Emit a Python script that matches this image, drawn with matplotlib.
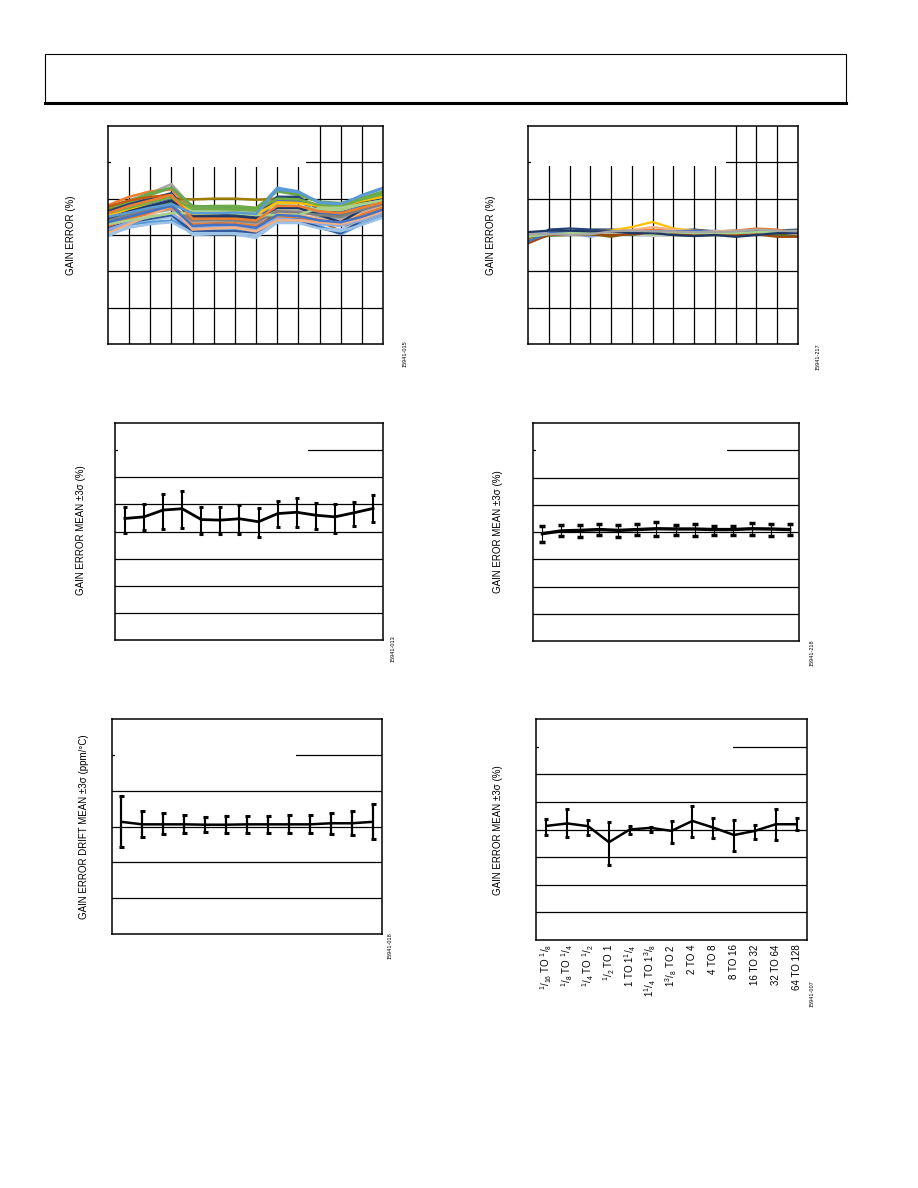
import matplotlib
matplotlib.use("Agg")
import matplotlib.pyplot as plt
from matplotlib.patches import Rectangle
from matplotlib.lines import Line2D

plt.rcParams["font.family"] = ["Liberation Sans", "DejaVu Sans"]

W, H = 918, 1188

# ---- data -------------------------------------------------------------
# top-left: gain error, many devices (14 points each)
ge_colors = ["#A5A5A5", "#ED7D31", "#70AD47", "#5B9BD5", "#A07C00", "#264478",
             "#4472C4", "#F4B183", "#A9D18E", "#548235", "#6AA84F", "#C55A11",
             "#9DC3E6", "#5B9BD5", "#FFC000", "#A5A5A5", "#2F5597", "#ED7D31",
             "#8FAADC", "#70AD47", "#1F3864", "#F4B183", "#7F7F7F", "#A9D18E",
             "#4472C4", "#ED7D31", "#9DC3E6", "#5B9BD5"]
ge_lines = [
    [0.55, 0.75, 1.15, 1.40, 0.75, 0.76, 0.78, 0.72, 1.05, 1.00, 0.80, 0.75, 0.95, 1.10],
    [0.82, 1.05, 1.20, 1.25, 0.70, 0.72, 0.70, 0.65, 0.95, 0.92, 0.78, 0.72, 0.90, 1.05],
    [0.70, 0.90, 1.10, 1.30, 0.78, 0.80, 0.80, 0.75, 1.20, 1.10, 0.90, 0.85, 1.00, 1.15],
    [0.60, 0.80, 0.95, 1.10, 0.68, 0.70, 0.72, 0.66, 1.30, 1.20, 0.88, 0.82, 1.10, 1.30],
    [0.70, 0.80, 0.95, 1.00, 0.98, 1.00, 1.00, 0.97, 1.00, 0.95, 0.80, 0.75, 0.90, 1.00],
    [0.65, 0.85, 1.00, 1.15, 0.55, 0.55, 0.55, 0.50, 1.05, 1.05, 0.70, 0.65, 0.85, 1.00],
    [0.50, 0.70, 0.85, 1.00, 0.45, 0.45, 0.48, 0.40, 0.95, 0.95, 0.60, 0.55, 0.80, 0.95],
    [0.30, 0.50, 0.70, 0.85, 0.25, 0.25, 0.25, 0.20, 0.60, 0.55, 0.45, 0.40, 0.60, 0.80],
    [0.45, 0.60, 0.80, 0.95, 0.65, 0.65, 0.65, 0.60, 0.85, 0.80, 0.70, 0.68, 0.85, 0.95],
    [0.40, 0.55, 0.75, 0.90, 0.05, 0.05, 0.06, 0.00, 0.80, 0.75, 0.55, 0.50, 0.75, 0.90],
    [0.75, 0.95, 1.15, 1.30, 0.80, 0.78, 0.75, 0.70, 1.22, 1.12, 0.92, 0.88, 1.02, 1.20],
    [0.78, 0.95, 1.05, 1.10, 0.35, 0.35, 0.30, 0.25, 0.55, 0.50, 0.40, 0.10, 0.55, 0.75],
    [-0.04, 0.25, 0.40, 0.50, 0.00, 0.02, 0.02, -0.08, 0.35, 0.35, 0.20, 0.15, 0.35, 0.55],
    [0.10, 0.30, 0.35, 0.40, 0.15, 0.15, 0.15, 0.10, 0.40, 0.40, 0.25, 0.02, 0.30, 0.50],
    [0.55, 0.70, 0.90, 1.05, 0.58, 0.60, 0.62, 0.55, 0.90, 0.88, 0.80, 0.78, 0.95, 1.05],
    [0.35, 0.45, 0.60, 0.70, 0.35, 0.38, 0.38, 0.30, 0.70, 0.68, 0.50, 0.45, 0.65, 0.85],
    [0.20, 0.35, 0.45, 0.55, 0.10, 0.10, 0.10, 0.05, 0.45, 0.45, 0.20, 0.05, 0.40, 0.60],
    [0.25, 0.45, 0.60, 0.75, 0.30, 0.30, 0.32, 0.25, 0.50, 0.50, 0.35, 0.30, 0.55, 0.75],
    [0.15, 0.35, 0.50, 0.60, 0.20, 0.22, 0.20, 0.15, 0.45, 0.42, 0.30, 0.25, 0.40, 0.60],
    [0.60, 0.75, 0.90, 1.05, 0.72, 0.72, 0.70, 0.68, 1.00, 0.98, 0.82, 0.78, 0.98, 1.12],
    [0.45, 0.65, 0.80, 0.95, 0.50, 0.50, 0.50, 0.45, 0.75, 0.75, 0.55, 0.35, 0.70, 0.90],
    [0.05, 0.30, 0.55, 0.80, 0.15, 0.18, 0.20, 0.10, 0.40, 0.40, 0.35, 0.30, 0.45, 0.65],
    [0.40, 0.55, 0.70, 0.80, 0.40, 0.42, 0.40, 0.35, 0.65, 0.62, 0.55, 0.50, 0.70, 0.85],
    [0.30, 0.40, 0.50, 0.60, 0.60, 0.62, 0.60, 0.55, 0.55, 0.55, 0.75, 0.75, 0.85, 0.95],
    [0.35, 0.50, 0.65, 0.80, 0.25, 0.28, 0.28, 0.20, 0.55, 0.52, 0.40, 0.35, 0.50, 0.70],
    [0.60, 0.80, 0.95, 1.10, 0.45, 0.45, 0.45, 0.40, 0.80, 0.80, 0.65, 0.60, 0.75, 0.90],
    [0.00, 0.20, 0.30, 0.35, 0.05, 0.05, 0.05, 0.00, 0.33, 0.33, 0.18, 0.10, 0.28, 0.48],
    [0.50, 0.62, 0.75, 0.85, 0.60, 0.60, 0.62, 0.58, 1.25, 1.18, 0.90, 0.86, 1.08, 1.28],
]

# top-right: gain error, second set
ge2_colors = ["#264478", "#ED7D31", "#FFC000", "#A5A5A5", "#8FAADC", "#548235",
              "#F4B183", "#806000", "#C9C9C9", "#9E480E", "#4472C4", "#A9D18E",
              "#1F3864", "#A5A5A5"]
ge2_lines = [
    [-0.20, 0.15, 0.18, 0.15, 0.15, 0.12, 0.10, 0.12, 0.15, 0.10, 0.12, 0.15, 0.12, 0.15],
    [-0.24, 0.02, 0.05, 0.08, 0.08, 0.12, 0.15, 0.12, 0.10, 0.08, 0.12, 0.18, 0.15, 0.05],
    [-0.05, 0.05, 0.08, 0.10, 0.12, 0.22, 0.36, 0.18, 0.12, 0.10, 0.10, 0.12, 0.10, 0.08],
    [0.05, 0.05, 0.03, 0.05, 0.05, 0.02, 0.00, 0.02, 0.05, 0.05, 0.03, 0.02, 0.03, 0.02],
    [0.00, 0.08, 0.05, -0.05, 0.05, 0.08, 0.10, 0.12, 0.10, 0.12, 0.08, 0.05, 0.00, 0.05],
    [-0.15, -0.02, 0.00, 0.00, 0.02, 0.00, 0.00, 0.00, -0.02, 0.00, 0.00, 0.00, 0.00, -0.02],
    [-0.10, 0.05, 0.08, 0.08, 0.10, 0.14, 0.22, 0.15, 0.10, 0.10, 0.12, 0.12, 0.10, 0.10],
    [-0.08, 0.00, 0.02, 0.03, -0.05, 0.05, 0.02, 0.05, 0.02, 0.05, 0.02, 0.10, 0.05, 0.00],
    [0.03, 0.00, 0.02, 0.05, 0.02, 0.03, -0.03, 0.03, 0.03, 0.02, 0.05, 0.05, 0.08, 0.02],
    [-0.22, 0.00, 0.00, 0.02, 0.00, 0.02, 0.05, 0.02, 0.00, 0.00, 0.00, 0.02, -0.05, -0.05],
    [-0.18, 0.05, 0.10, 0.10, 0.10, 0.08, 0.10, 0.10, 0.12, 0.08, 0.05, 0.10, 0.10, 0.10],
    [-0.05, 0.02, 0.05, 0.05, 0.08, 0.10, 0.00, 0.08, 0.05, 0.05, 0.05, 0.08, 0.10, 0.12],
    [0.08, 0.12, 0.12, 0.10, 0.10, 0.05, 0.05, 0.00, -0.03, 0.00, -0.05, 0.00, 0.05, 0.05],
    [0.02, 0.03, 0.00, 0.02, 0.10, 0.12, 0.10, 0.10, 0.08, 0.08, 0.10, 0.15, 0.12, 0.10],
]

# middle-left: gain error mean and ±3 sigma
m1_mean = [0.48, 0.54, 0.79, 0.84, 0.44, 0.42, 0.47, 0.36, 0.66, 0.71, 0.60, 0.54, 0.69, 0.85]
m1_hi = [0.91, 1.01, 1.40, 1.50, 0.91, 0.91, 0.96, 0.87, 1.13, 1.23, 1.06, 1.02, 1.10, 1.34]
m1_lo = [-0.05, 0.05, 0.11, 0.14, -0.10, -0.10, -0.10, -0.22, 0.17, 0.17, 0.10, -0.05, 0.20, 0.36]

# middle-right
m2_mean = [-0.06, 0.04, 0.06, 0.09, 0.06, 0.09, 0.12, 0.11, 0.11, 0.09, 0.09, 0.12, 0.11, 0.09]
m2_hi = [0.21, 0.25, 0.25, 0.28, 0.25, 0.28, 0.38, 0.25, 0.28, 0.21, 0.21, 0.32, 0.28, 0.28]
m2_lo = [-0.36, -0.13, -0.17, -0.10, -0.17, -0.10, -0.13, -0.10, -0.13, -0.10, -0.10, -0.10, -0.13, -0.10]

# bottom-left: gain error drift mean ±3 sigma (ppm/°C)
d_mean = [0.13, 0.06, 0.06, 0.06, 0.05, 0.05, 0.06, 0.06, 0.06, 0.06, 0.09, 0.09, 0.13]
d_hi = [0.85, 0.44, 0.38, 0.31, 0.27, 0.30, 0.30, 0.30, 0.32, 0.32, 0.38, 0.44, 0.62]
d_lo = [-0.56, -0.29, -0.21, -0.19, -0.15, -0.18, -0.18, -0.18, -0.18, -0.19, -0.20, -0.23, -0.35]

# bottom-right: gain error mean ±3 sigma per gain range
ranges = [r"$\mathregular{^{1}/_{16}}$ TO $\mathregular{^{1}/_{8}}$",
          r"$\mathregular{^{1}/_{8}}$ TO $\mathregular{^{1}/_{4}}$",
          r"$\mathregular{^{1}/_{4}}$ TO $\mathregular{^{1}/_{2}}$",
          r"$\mathregular{^{1}/_{2}}$ TO 1",
          r"1 TO 1$\mathregular{^{1}/_{4}}$",
          r"1$\mathregular{^{1}/_{4}}$ TO 1$\mathregular{^{3}/_{8}}$",
          r"1$\mathregular{^{3}/_{8}}$ TO 2",
          "2 TO 4", "4 TO 8", "8 TO 16", "16 TO 32", "32 TO 64", "64 TO 128"]
r_mean = [0.13, 0.22, 0.12, -0.46, 0.00, 0.06, -0.05, 0.31, 0.07, -0.20, -0.05, 0.19, 0.19]
r_hi = [0.37, 0.73, 0.34, 0.28, 0.12, 0.10, 0.31, 0.84, 0.40, 0.34, 0.16, 0.73, 0.40]
r_lo = [-0.20, -0.27, -0.20, -1.27, -0.17, -0.08, -0.48, -0.27, -0.30, -0.77, -0.33, -0.39, -0.02]


def pix_axes(x0, y0, x1, y1):
    return fig.add_axes([x0 / W, 1 - y1 / H, (x1 - x0) / W, (y1 - y0) / H])


def frame(ax, xlim, ylim, hgrid, vgrid, box_w, box_h):
    ax.set_xlim(*xlim)
    ax.set_ylim(*ylim)
    for y in hgrid:
        ax.axhline(y, color="black", lw=0.9, zorder=1)
    for x in vgrid:
        ax.axvline(x, color="black", lw=0.9, zorder=1)
    # blanked area in the upper left
    ax.add_patch(Rectangle((0.012, 1 - box_h), box_w - 0.012, box_h, transform=ax.transAxes,
                           facecolor="white", edgecolor="none", zorder=1.5))
    ax.set_xticks([])
    ax.set_yticks([])
    for s in ax.spines.values():
        s.set_linewidth(1.1)


def label(x, y, s, size=7):
    fig.text(x / W, 1 - y / H, s, rotation=90, ha="center", va="center", fontsize=size)


fig = plt.figure(figsize=(W / 100, H / 100), dpi=100)

# header box
fig.add_artist(Rectangle((45 / W, 1 - 103 / H), 801 / W, 49 / H, transform=fig.transFigure,
                         facecolor="none", edgecolor="black", lw=0.8))
fig.add_artist(Line2D([45 / W, 846 / W], [1 - 103 / H, 1 - 103 / H], transform=fig.transFigure,
                      color="black", lw=2.2))

# top-left
ax1 = pix_axes(108, 126, 383, 344)
frame(ax1, (0, 13), (-3, 3), range(-2, 3), range(1, 13), 0.719, 0.187)
xs = list(range(14))
for c, v in zip(ge_colors, ge_lines):
    ax1.plot(xs, v, color=c, lw=1.8, zorder=2)
label(71, 235, "GAIN ERROR (%)")
label(405, 354, "15941-015", 4)

# top-right
ax2 = pix_axes(528, 126, 798, 344)
frame(ax2, (0, 13), (-3, 3), range(-2, 3), range(1, 13), 0.732, 0.183)
for c, v in zip(ge2_colors, ge2_lines):
    ax2.plot(xs, v, color=c, lw=1.6, zorder=2)
label(491, 235, "GAIN ERROR (%)")
label(818, 357, "15941-217", 4)


def errplot(ax, mean, hi, lo, lw, elw, cap, capth):
    x = list(range(len(mean)))
    err = [[m - l for m, l in zip(mean, lo)], [h - m for m, h in zip(mean, hi)]]
    ax.errorbar(x, mean, yerr=err, color="black", lw=lw, elinewidth=elw,
                capsize=cap, capthick=capth, zorder=3)


# middle-left
ax3 = pix_axes(115, 423, 383, 640)
frame(ax3, (-0.52, 13.52), (-4, 4), range(-3, 4), [], 0.72, 0.16)
errplot(ax3, m1_mean, m1_hi, m1_lo, 2.0, 1.5, 1.6, 2.2)
label(81, 530, "GAIN ERROR MEAN ±3σ (%)")
label(393, 649, "15941-013", 4)

# middle-right
ax4 = pix_axes(533, 423, 799, 641)
frame(ax4, (-0.49, 13.49), (-4, 4), range(-3, 4), [], 0.731, 0.16)
errplot(ax4, m2_mean, m2_hi, m2_lo, 2.4, 0.8, 2.2, 2.5)
label(498, 532, "GAIN EROR MEAN ±3σ (%)")
label(812, 653, "15941-218", 4)

# bottom-left
ax5 = pix_axes(112, 719, 382, 934)
frame(ax5, (-0.45, 12.45), (-3, 3), range(-2, 3), [], 0.683, 0.2)
errplot(ax5, d_mean, d_hi, d_lo, 1.8, 1.6, 1.8, 2.2)
label(84, 827, "GAIN ERROR DRIFT MEAN ±3σ (ppm/°C)")
label(390, 946, "15941-018", 4)

# bottom-right
ax6 = pix_axes(536, 719, 807, 940)
frame(ax6, (-0.5, 12.5), (-4, 4), range(-3, 4), [], 0.728, 0.16)
errplot(ax6, r_mean, r_hi, r_lo, 1.8, 1.5, 1.6, 2.2)
ax6.set_xticks(range(len(ranges)))
ax6.set_xticklabels(ranges, rotation=90, fontsize=7)
ax6.tick_params(axis="x", length=0, pad=3)
label(498, 830, "GAIN ERROR MEAN ±3σ (%)")
label(812, 994, "15941-007", 4)

fig.savefig("out.png", dpi=100)
